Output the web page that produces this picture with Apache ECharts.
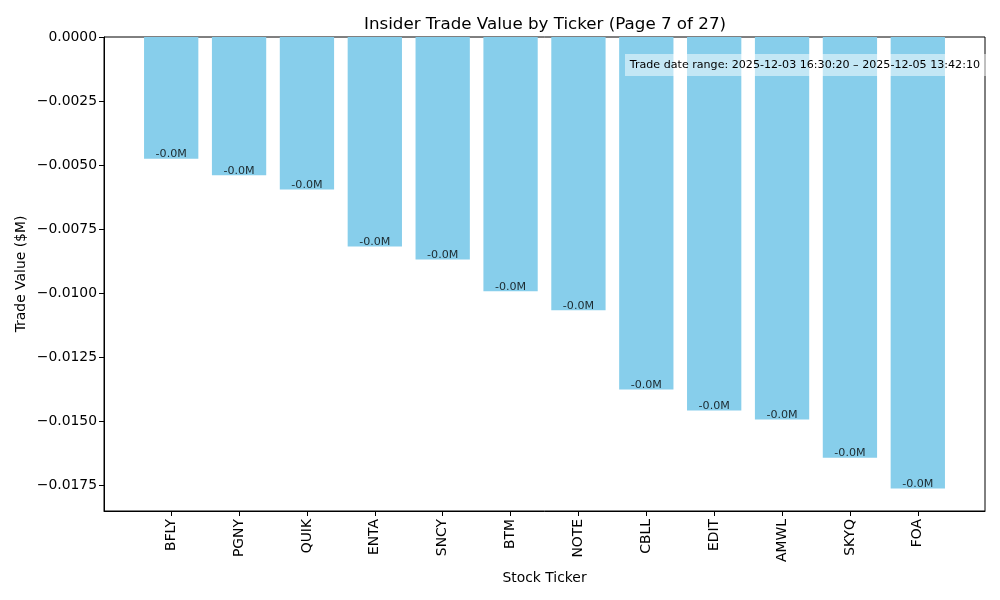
<!DOCTYPE html>
<html>
<head>
<meta charset="utf-8">
<script src="https://cdn.jsdelivr.net/npm/echarts@6/dist/echarts.min.js"></script>
<style>html,body{margin:0;padding:0;background:#fff;}#c{width:1000px;height:600px;}</style>
</head>
<body>
<div id="c"></div>
<script>
const tickers = ["BFLY","PGNY","QUIK","ENTA","SNCY","BTM","NOTE","CBLL","EDIT","AMWL","SKYQ","FOA"];
const values = [-0.00475,-0.00540,-0.00596,-0.00818,-0.00869,-0.00993,-0.01067,-0.01377,-0.01459,-0.01494,-0.01643,-0.01763];
const barLabels = ["-0.0M","-0.0M","-0.0M","-0.0M","-0.0M","-0.0M","-0.0M","-0.0M","-0.0M","-0.0M","-0.0M","-0.0M"];
const yTicks = [0,-0.0025,-0.005,-0.0075,-0.01,-0.0125,-0.015,-0.0175];
const titleText = "Insider Trade Value by Ticker (Page 7 of 27)";
const noteText = "Trade date range: 2025-12-03 16:30:20 \u2013 2025-12-05 13:42:10";

const n = tickers.length;
const yMin = Math.min(...values) * 1.05;
const xMin = -0.4 - 0.05 * (n - 1 + 0.8);
const xMax = (n - 1) + 0.4 + 0.05 * (n - 1 + 0.8);
const FONT = "DejaVu Sans";
const chart = echarts.init(document.getElementById('c'));
const gridW = 881, gridL = 104, gridT = 37, gridH = 474;
const barW = 0.8 * gridW / (xMax - xMin);

chart.setOption({
  animation: false,
  backgroundColor: '#fff',
  title: {
    text: titleText, left: 359, top: 11,
    textStyle: {fontFamily: FONT, fontSize: 16.7, fontWeight: 'normal', color: '#000'}
  },
  grid: {left: gridL, top: gridT, width: gridW, height: gridH, show: true, borderColor: '#000', borderWidth: 1, backgroundColor: 'transparent'},
  xAxis: {
    type: 'value', min: xMin, max: xMax,
    name: 'Stock Ticker', nameLocation: 'middle', nameGap: 60,
    nameTextStyle: {fontFamily: FONT, fontSize: 13.9, color: '#000'},
    axisLine: {show: true, onZero: false, lineStyle: {color: '#000', width: 1}},
    axisTick: {show: true, length: 5, lineStyle: {color: '#000'}, customValues: tickers.map((t, i) => i)},
    axisLabel: {
      rotate: 90, margin: 8, fontFamily: FONT, fontSize: 13.9, color: '#000',
      customValues: tickers.map((t, i) => i),
      formatter: v => tickers[Math.round(v)] || ''
    },
    splitLine: {show: false}
  },
  yAxis: {
    type: 'value', min: yMin, max: 0,
    name: 'Trade Value ($M)', nameLocation: 'middle', nameGap: 76, nameMoveOverlap: false,
    nameTextStyle: {fontFamily: FONT, fontSize: 13.9, color: '#000'},
    axisLine: {show: true, onZero: false, lineStyle: {color: '#000', width: 1}},
    axisTick: {show: true, length: 5, lineStyle: {color: '#000'}, customValues: yTicks},
    axisLabel: {
      margin: 7, fontFamily: FONT, fontSize: 13.9, color: '#000',
      customValues: yTicks,
      formatter: v => (v < 0 ? '\u2212' : '') + Math.abs(v).toFixed(4)
    },
    splitLine: {show: false}
  },
  series: [
    {
      type: 'bar', barWidth: barW,
      itemStyle: {color: '#87CEEB'},
      data: values.map((v, i) => [i, v])
    },
    {
      type: 'scatter', symbolSize: 0.1,
      itemStyle: {color: 'transparent'},
      label: {
        show: true, position: 'top', distance: -1,
        fontFamily: FONT, fontSize: 11.1, color: '#000',
        formatter: p => barLabels[p.dataIndex]
      },
      data: values.map((v, i) => [i, v]),
      z: 5
    }
  ],
  graphic: [
    {type: 'rect', z: 100, shape: {x: 625, y: 54, width: 361, height: 22}, style: {fill: 'rgba(255,255,255,0.5)'}},
    {type: 'text', z: 101, style: {x: 980, y: 65, text: noteText, align: 'right', verticalAlign: 'middle', fontFamily: FONT, fontSize: 11.1, fill: '#000'}}
  ]
});
</script>
</body>
</html>
